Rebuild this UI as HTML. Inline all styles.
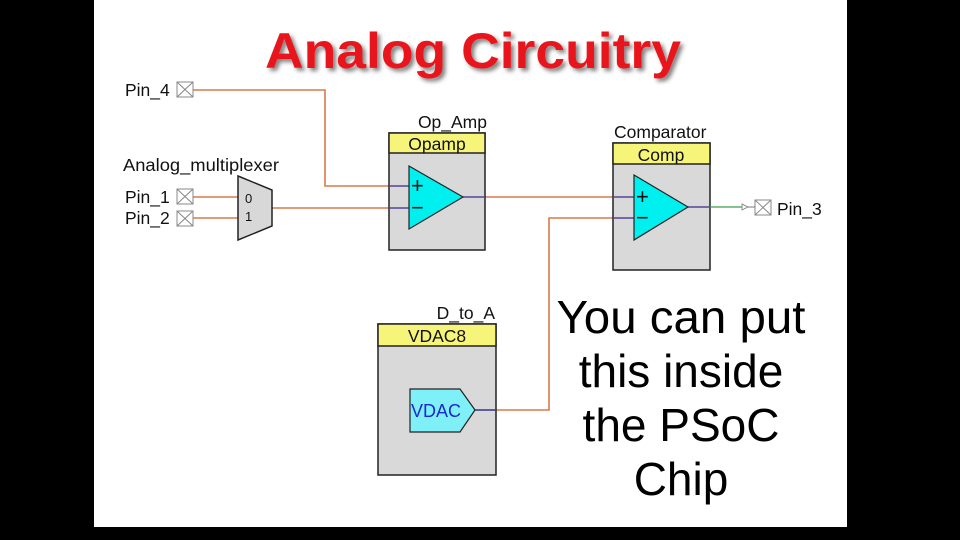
<!DOCTYPE html>
<html><head><meta charset="utf-8"><style>
html,body{margin:0;padding:0;background:#000;width:960px;height:540px;overflow:hidden}
svg{display:block}
text{font-family:"Liberation Sans",Arial,sans-serif}
</style></head><body>
<svg width="960" height="540" viewBox="0 0 960 540" xmlns="http://www.w3.org/2000/svg">
<defs><filter id="sh" x="-10%" y="-30%" width="130%" height="160%"><feDropShadow dx="3" dy="3" stdDeviation="2" flood-color="#000" flood-opacity="0.5"/></filter></defs>
<rect x="0" y="0" width="960" height="540" fill="#000"/>
<rect x="94" y="0" width="753" height="527" fill="#fff"/>
<text x="473" y="68" font-size="50" font-weight="bold" fill="#e8161b" text-anchor="middle" textLength="416" lengthAdjust="spacingAndGlyphs" filter="url(#sh)">Analog Circuitry</text>

<g stroke="#d9784a" stroke-width="1.6" fill="none">
<polyline points="193,90 325,90 325,186 389,186"/>
<line x1="193" y1="197" x2="238" y2="197"/>
<line x1="193" y1="218" x2="238" y2="218"/>
<line x1="272" y1="208" x2="389" y2="208"/>
<line x1="485" y1="197" x2="613" y2="197"/>
<polyline points="496,410 549,410 549,218 613,218"/>
</g>

<g stroke="#888" stroke-width="1" fill="#fff">
<rect x="177" y="82" width="16" height="15"/><path d="M177 82L193 97M193 82L177 97" />
<rect x="177" y="189" width="16" height="15"/><path d="M177 189L193 204M193 189L177 204"/>
<rect x="177" y="211" width="16" height="15"/><path d="M177 211L193 226M193 211L177 226"/>
<rect x="755" y="200" width="16" height="15"/><path d="M755 200L771 215M771 200L755 215"/>
</g>

<polygon points="238,176 272,190 272,226 238,240" fill="#d8d8d8" stroke="#222" stroke-width="1.5"/>
<text x="245" y="203" font-size="13" fill="#111">0</text>
<text x="245" y="221" font-size="13" fill="#111">1</text>

<!-- Opamp -->
<rect x="389" y="133" width="96" height="117" fill="#d9d9d9" stroke="#222" stroke-width="1.5"/>
<rect x="389" y="133" width="96" height="20" fill="#f7f47a" stroke="#222" stroke-width="1.5"/>
<text x="437" y="150" font-size="17.5" text-anchor="middle" fill="#111">Opamp</text>
<g stroke="#55449a" stroke-width="1.6"><line x1="389" y1="186" x2="409" y2="186"/><line x1="389" y1="208" x2="409" y2="208"/><line x1="463" y1="197" x2="485" y2="197"/></g>
<polygon points="409,166 463,197 409,229" fill="#00f0f0" stroke="#222" stroke-width="1.2"/>
<text x="411" y="193" font-size="22" fill="#111">+</text>
<text x="411" y="215" font-size="22" fill="#111">−</text>

<!-- Comp -->
<rect x="613" y="143" width="97" height="127" fill="#d9d9d9" stroke="#222" stroke-width="1.5"/>
<rect x="613" y="143" width="97" height="21" fill="#f7f47a" stroke="#222" stroke-width="1.5"/>
<text x="661" y="161" font-size="17.5" text-anchor="middle" fill="#111">Comp</text>
<g stroke="#55449a" stroke-width="1.6"><line x1="613" y1="197" x2="634" y2="197"/><line x1="613" y1="218" x2="634" y2="218"/><line x1="688" y1="207" x2="710" y2="207"/></g>
<polygon points="634,175 688,207 634,240" fill="#00f0f0" stroke="#222" stroke-width="1.2"/>
<text x="636" y="204" font-size="22" fill="#111">+</text>
<text x="636" y="225" font-size="22" fill="#111">−</text>
<line x1="710" y1="207" x2="742" y2="207" stroke="#3aa04a" stroke-width="1.3"/>
<polygon points="742,204 748,207 742,210" fill="#fff" stroke="#777" stroke-width="0.8"/>
<line x1="748" y1="207" x2="755" y2="207" stroke="#777" stroke-width="1"/>

<!-- VDAC -->
<rect x="378" y="324" width="118" height="151" fill="#d9d9d9" stroke="#222" stroke-width="1.5"/>
<rect x="378" y="324" width="118" height="22" fill="#f7f47a" stroke="#222" stroke-width="1.5"/>
<text x="437" y="342" font-size="17.5" text-anchor="middle" fill="#111">VDAC8</text>
<line x1="475" y1="410" x2="496" y2="410" stroke="#33338a" stroke-width="1.6"/>
<polygon points="410,389 460,389 475,410 460,432 410,432" fill="#7ff0f8" stroke="#222" stroke-width="1.2"/>
<text x="436" y="417" font-size="18" text-anchor="middle" fill="#1a2ad0">VDAC</text>

<g font-size="17.5" fill="#111">
<text x="125" y="96">Pin_4</text>
<text x="123" y="171" textLength="156" lengthAdjust="spacingAndGlyphs">Analog_multiplexer</text>
<text x="125" y="203">Pin_1</text>
<text x="125" y="224">Pin_2</text>
<text x="777" y="215">Pin_3</text>
<text x="487" y="128" text-anchor="end">Op_Amp</text>
<text x="614" y="138">Comparator</text>
<text x="495" y="319" text-anchor="end">D_to_A</text>
</g>

<g font-size="46" fill="#000" text-anchor="middle">
<text x="681" y="333" textLength="249" lengthAdjust="spacingAndGlyphs">You can put</text>
<text x="681" y="387">this inside</text>
<text x="681" y="441">the PSoC</text>
<text x="681" y="495">Chip</text>
</g>
</svg>
</body></html>
